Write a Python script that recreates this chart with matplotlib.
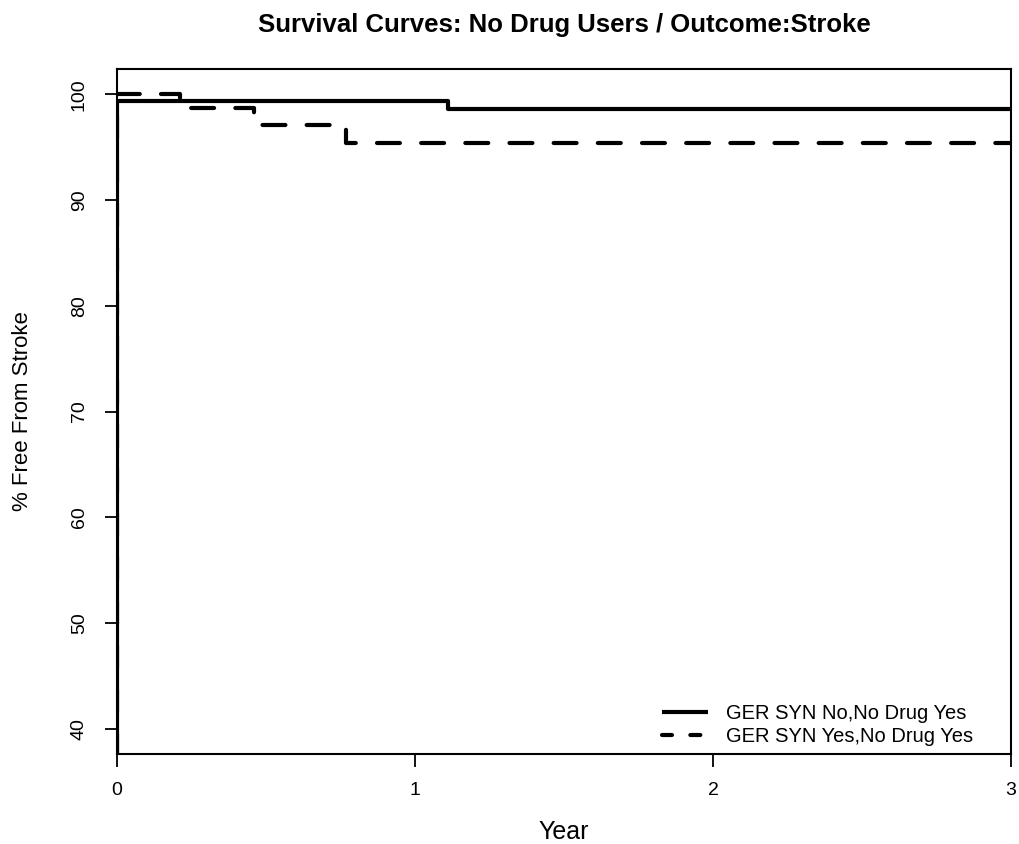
import matplotlib.pyplot as plt
from matplotlib.lines import Line2D

plt.rcParams["font.family"] = ["Liberation Sans", "DejaVu Sans"]

# Kaplan-Meier step data (percent free from stroke)
solid_time = [0, 0, 1.11, 3]
solid_surv = [0, 99.4, 98.6, 98.6]
dashed_time = [0, 0, 0.21, 0.46, 0.77, 3]
dashed_surv = [0, 100, 98.7, 97.1, 95.4, 95.4]
labels = ["GER SYN No,No Drug Yes", "GER SYN Yes,No Drug Yes"]
x_ticks = [0, 1, 2, 3]
y_ticks = [40, 50, 60, 70, 80, 90, 100]

fig = plt.figure(figsize=(10.19, 8.44), dpi=100)
ax = fig.add_axes([0.1148, 0.1066, 0.8773, 0.8116])

ax.step(solid_time, solid_surv, where="post", color="black", lw=3,
        solid_capstyle="butt")
ax.step(dashed_time, dashed_surv, where="post", color="black", lw=3,
        dashes=(5.5, 5.1), dash_capstyle="round")

ax.set_xlim(0, 3)
ax.set_ylim(40 - 2.4, 100 + 2.4)
ax.set_xticks(x_ticks)
ax.set_yticks(y_ticks)
ax.set_yticklabels([str(v) for v in y_ticks], rotation=90, va="center",
                   fontsize=14)
ax.set_xticklabels([str(v) for v in x_ticks], fontsize=14)
ax.tick_params(direction="out", length=9, width=1.3)
ax.tick_params(axis="x", pad=11)
ax.tick_params(axis="y", pad=12)
for sp in ax.spines.values():
    sp.set_linewidth(1.5)

ax.set_title("Survival Curves: No Drug Users / Outcome:Stroke",
             fontsize=18.5, fontweight="bold", pad=27)
ax.set_xlabel("Year", fontsize=18, labelpad=15)
ax.set_ylabel("% Free From Stroke", fontsize=16, labelpad=27)

handles = [
    Line2D([], [], color="black", lw=3, solid_capstyle="butt"),
    Line2D([], [], color="black", lw=3, dashes=(2.4, 4.4),
           dash_capstyle="round"),
]
ax.legend(handles, labels, loc="lower left", bbox_to_anchor=(0.6095, 0.012),
          frameon=False, fontsize=14.5, handlelength=2.3, handletextpad=0.9,
          labelspacing=0.2, borderpad=0, borderaxespad=0)

fig.savefig("out.png", dpi=100)
